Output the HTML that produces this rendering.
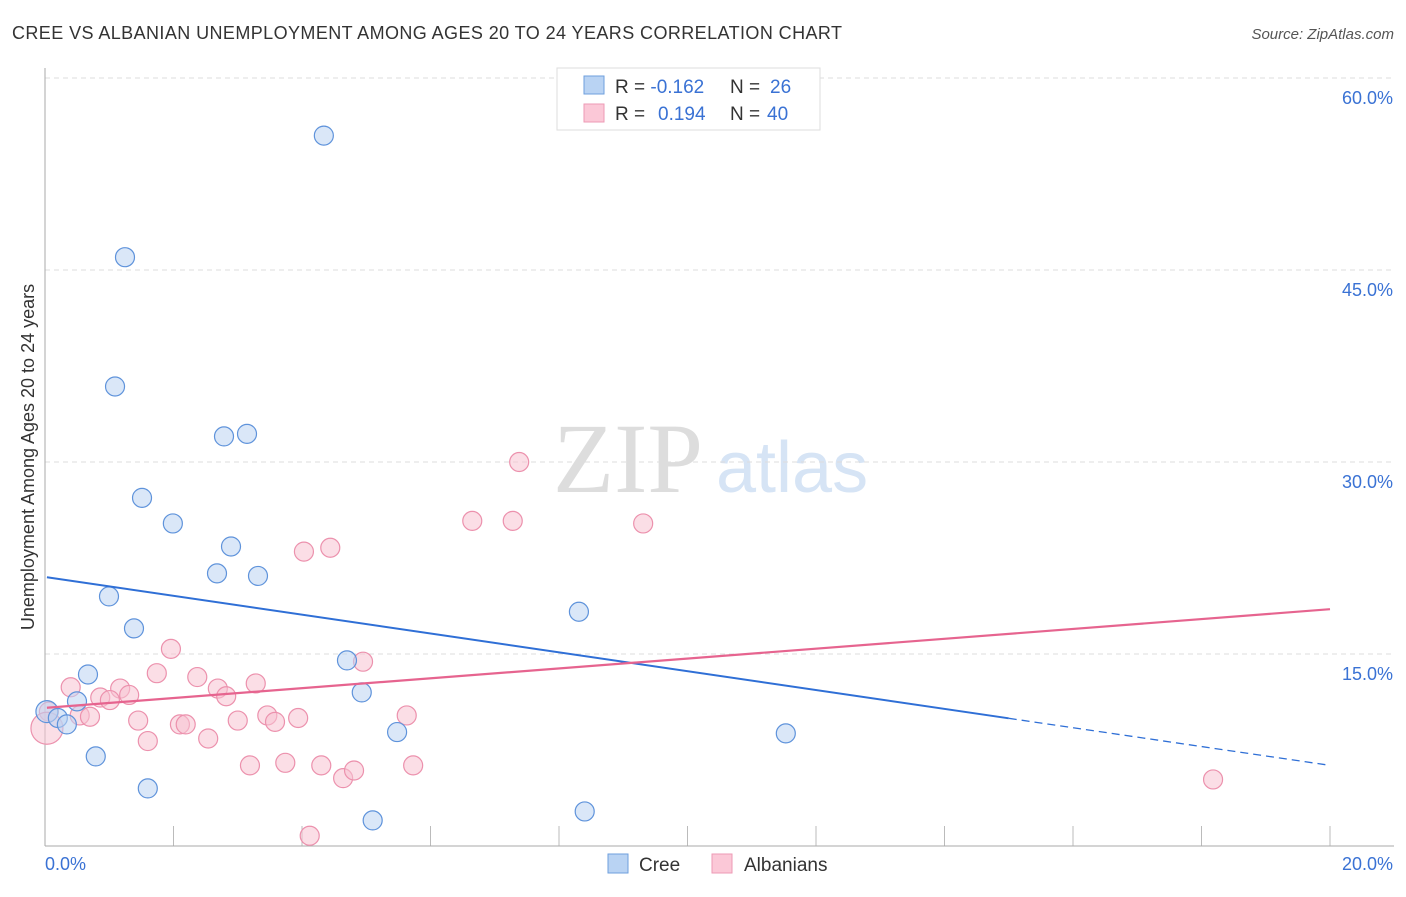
<!DOCTYPE html>
<html><head><meta charset="utf-8"><style>
body{margin:0;background:#fff;font-family:"Liberation Sans",sans-serif;}
</style></head><body>
<svg id="chart" width="1406" height="892" xmlns="http://www.w3.org/2000/svg" font-family="Liberation Sans, sans-serif">
<text x="12" y="39" font-size="18" fill="#333" textLength="830">CREE VS ALBANIAN UNEMPLOYMENT AMONG AGES 20 TO 24 YEARS CORRELATION CHART</text>
<text x="1394" y="39" font-size="15" fill="#555" font-style="italic" text-anchor="end">Source: ZipAtlas.com</text>
<text x="553" y="492" font-size="100" fill="#ddd" font-family="Liberation Serif, serif">ZIP</text>
<text x="716" y="492" font-size="72" fill="#d6e4f5">atlas</text>
<text transform="translate(34,457) rotate(-90)" font-size="18" fill="#333" text-anchor="middle">Unemployment Among Ages 20 to 24 years</text>
<g id="axes"></g>
<g id="marks"></g>
<g>
<rect x="557" y="68" width="263" height="62" fill="#fff" stroke="#ddd"/>
<rect x="584" y="76" width="20" height="18" fill="#b9d3f3" stroke="#6e9fde"/>
<rect x="584" y="104" width="20" height="18" fill="#fbc8d7" stroke="#ee9ab4"/>
<text font-size="19" fill="#333"><tspan x="615" y="93">R = </tspan><tspan fill="#3a72d4">-0.162</tspan><tspan x="730">N = </tspan><tspan x="770" fill="#3a72d4">26</tspan></text>
<text font-size="19" fill="#333"><tspan x="615" y="120">R = </tspan><tspan x="658" fill="#3a72d4">0.194</tspan><tspan x="730">N = </tspan><tspan x="767" fill="#3a72d4">40</tspan></text>
</g>
<g>
<rect x="608" y="854" width="20" height="19" fill="#b9d3f3" stroke="#6e9fde"/>
<text x="639" y="871" font-size="19" fill="#333">Cree</text>
<rect x="712" y="854" width="20" height="19" fill="#fbc8d7" stroke="#ee9ab4"/>
<text x="744" y="871" font-size="19" fill="#333">Albanians</text>
</g>
</svg>
<script>
const yTicks=[15,30,45,60];
const yTickLabels=["15.0%","30.0%","45.0%","60.0%"];
const xTickLabels=["0.0%","20.0%"];
const creeX=[4.34,1.245,1.09,2.786,3.144,1.51,1.99,2.895,2.677,3.315,0.996,1.385,8.31,4.70,0.669,4.93,0.498,0.03,0.2,0.34,5.48,11.53,0.79,1.60,5.10,8.40];
const creeY=[55.5,46.0,35.9,32.0,32.2,27.2,25.2,23.4,21.3,21.1,19.5,17.0,18.3,14.5,13.4,12.0,11.3,10.5,10.0,9.5,8.9,8.8,7.0,4.5,2.0,2.7];
const albX=[7.38,6.65,7.28,9.31,4.03,4.44,1.96,1.74,2.37,4.95,0.40,1.17,1.31,0.86,1.01,2.69,2.82,3.28,0.06,0.54,0.70,1.45,2.10,2.19,3.00,3.46,3.58,3.94,5.63,1.60,2.54,3.19,3.74,4.30,4.64,4.81,5.73,4.12,18.18,0.03];
const albY=[30.0,25.4,25.4,25.2,23.0,23.3,15.4,13.5,13.2,14.4,12.4,12.3,11.8,11.6,11.4,12.3,11.7,12.7,10.5,10.2,10.1,9.8,9.5,9.5,9.8,10.2,9.7,10.0,10.2,8.2,8.4,6.3,6.5,6.3,5.3,5.9,6.3,0.8,5.2,9.2];
const creeTrend=[21.0,6.3];
const albTrend=[10.8,18.5];
const NS="http://www.w3.org/2000/svg";
const X=v=>45+v*64.25, Y=v=>846-v*12.8;
const axes=document.getElementById('axes'), marks=document.getElementById('marks');
function mk(p,tag,a){const e=document.createElementNS(NS,tag);for(const k in a)e.setAttribute(k,a[k]);p.appendChild(e);return e;}
yTicks.forEach((t,i)=>{
 const g=mk(axes,'line',{x1:45,x2:1394,y1:Y(t),y2:Y(t),stroke:'#ddd','stroke-dasharray':'5,4'});
 
 
 const l=mk(axes,'text',{x:1393,y:Y(t)+26,'font-size':18,fill:'#3a72d4','text-anchor':'end'});l.textContent=yTickLabels[i];
 
 
});
for(let i=0;i<=10;i++){const t=mk(axes,'line',{x1:X(i*2),x2:X(i*2),y1:826,y2:846,stroke:'#bbb'});
 
 }
mk(axes,'line',{x1:45,x2:45,y1:68,y2:846,stroke:'#aaa'});
mk(axes,'line',{x1:45,x2:1394,y1:846,y2:846,stroke:'#aaa'});
[[0,45,'start'],[20,1393,'end']].forEach((d,i)=>{const l=mk(axes,'text',{x:d[1],y:870,'font-size':18,fill:'#3a72d4','text-anchor':d[2]});l.textContent=xTickLabels[i];
 
 });
function pts(xs,ys,fill,stroke,name){xs.forEach((x,i)=>{let r=9.5;if(name==='albanian-point'&&i===xs.length-1)r=16;if(name==='cree-point'&&i===17)r=11;
 const c=mk(marks,'circle',{cx:X(x),cy:Y(ys[i]),r:r,fill:fill,stroke:stroke,'stroke-width':1.2,'fill-opacity':0.55});
 
 });}
pts(albX,albY,'#f8c2d2','#ec91ad','albanian-point');
pts(creeX,creeY,'#bcd4f3','#5f93db','cree-point');
const xs=15.0, ySolid=creeTrend[0]+(creeTrend[1]-creeTrend[0])*xs/20;
let l1=mk(marks,'line',{x1:X(0.03),y1:Y(creeTrend[0]),x2:X(xs),y2:Y(ySolid),stroke:'#2f6fd6','stroke-width':2});


let l2=mk(marks,'line',{x1:X(xs),y1:Y(ySolid),x2:X(20),y2:Y(creeTrend[1]),stroke:'#2f6fd6','stroke-width':1.3,'stroke-dasharray':'8,5'});


let l3=mk(marks,'line',{x1:X(0.03),y1:Y(albTrend[0]),x2:X(20),y2:Y(albTrend[1]),stroke:'#e6648f','stroke-width':2.2});


</script>
</body></html>
